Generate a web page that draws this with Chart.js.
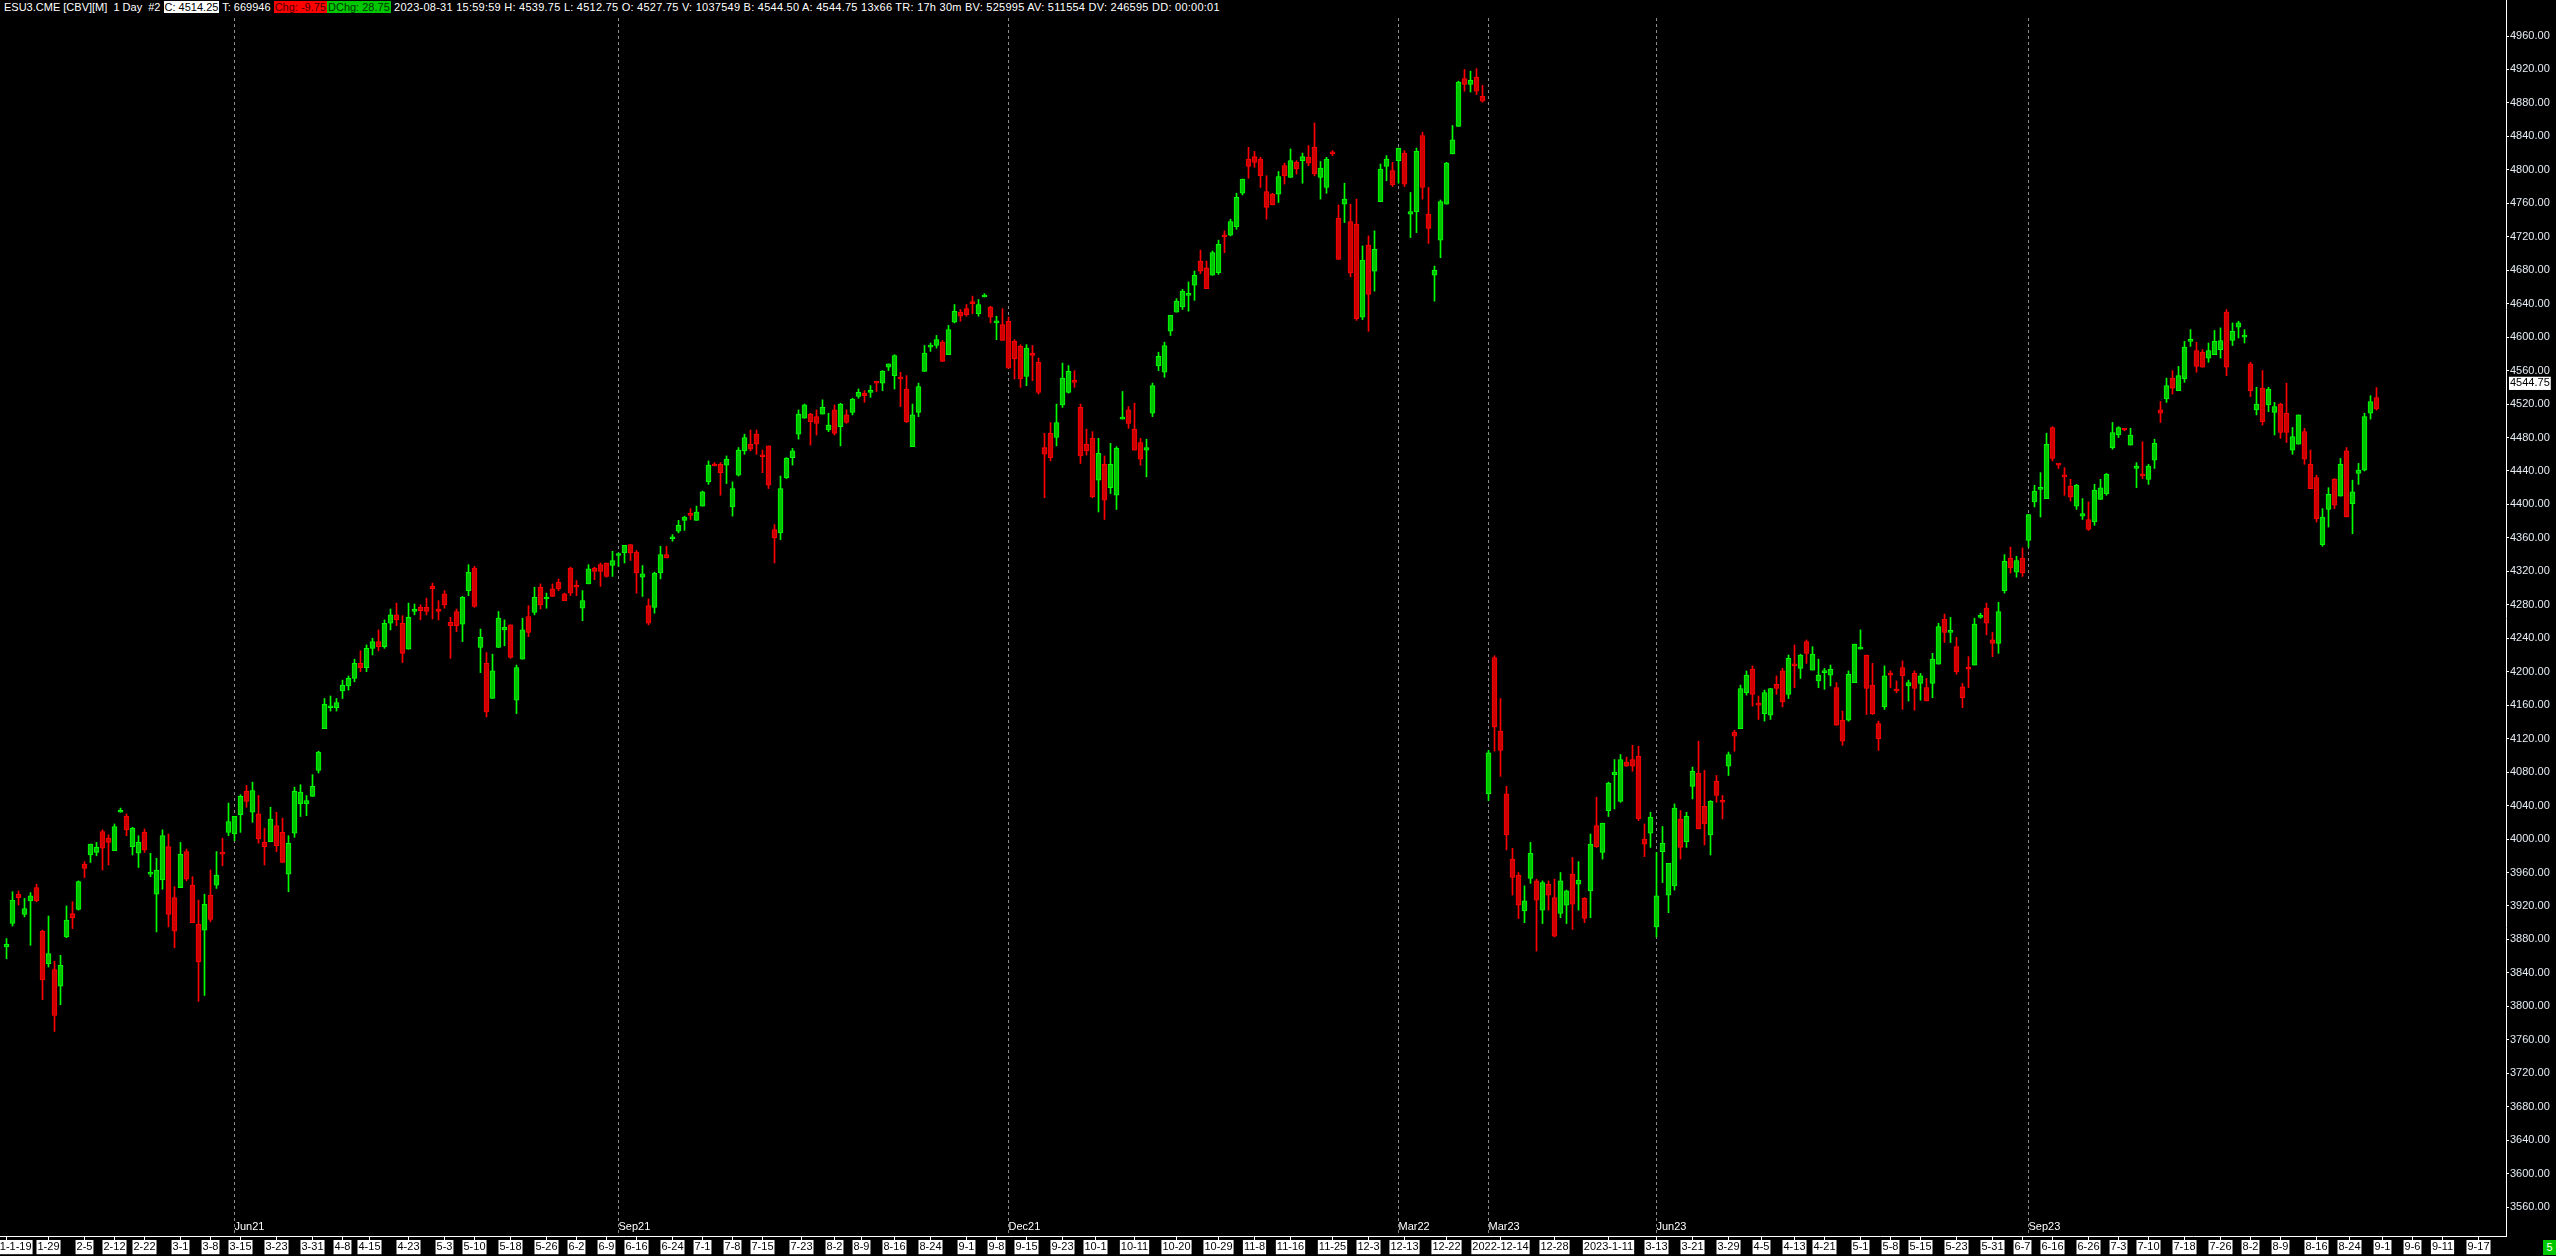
<!DOCTYPE html>
<html>
<head>
<meta charset="utf-8">
<script src="https://cdn.jsdelivr.net/npm/chart.js@4.4.0/dist/chart.umd.min.js"></script>
<style>
    body { margin: 0; background: #000; overflow: hidden; }
    #wrap { position: relative; width: 2556px; height: 1256px; background: #000; }
    #band { position: absolute; left: 0; top: 0; width: 2505px; height: 17px; background: #000; }
    #header {
        position: absolute; left: 4px; top: 1px;
        font: 11px 'Liberation Sans', Arial, sans-serif; line-height: 13px;
        color: #fff; white-space: pre;
    }
    #header .box { padding: 0 1px; }
    #header .white { background: #fff; color: #000; }
    #header .red { background: #ff0000; color: #4a0000; }
    #header .green { background: #00c800; color: #003300; }
    #header .tail { letter-spacing: 0.25px; }
    #barCount {
        position: absolute; left: 2543px; top: 1240px; width: 13px; height: 15px;
        background: #00c800; color: #fff; text-align: center;
        font: 11px 'Liberation Sans', Arial, sans-serif; line-height: 15px;
    }
</style>
</head>
<body>
<div id="wrap">
    <canvas id="priceChart" width="2556" height="1256"></canvas>
    <div id="band"></div>
    <div id="header">ESU3.CME [CBV][M]  1 Day  #2 <span class="box white">C: 4514.25</span> T: 669946 <span class="box red">Chg: -9.75</span><span class="box green">DChg: 28.75</span><span class="tail"> 2023-08-31 15:59:59 H: 4539.75 L: 4512.75 O: 4527.75 V: 1037549 B: 4544.50 A: 4544.75 13x66 TR: 17h 30m BV: 525995 AV: 511554 DV: 246595 DD: 00:00:01</span></div>
    <div id="barCount">5</div>
</div>
<script>
// Daily OHLC bars, one entry per session
const opens = [
    3871,3899,3934,3910,3926,3942,3890,3851,3844,3824,
    3883,3911,3916,3970,3981,3984,4009,4001,3986,4032,
    4027,3991,3983,4008,3958,3934,3951,3991,3930,3942,
    3985,3945,3898,3891,3933,3945,3983,4008,4006,4029,
    4057,4032,4030,3996,3997,4016,4008,3958,4007,4042,
    4042,4051,4082,4132,4157,4157,4177,4183,4192,4210,
    4205,4228,4236,4230,4258,4268,4258,4227,4272,4277,
    4277,4302,4275,4293,4259,4272,4257,4297,4324,4229,
    4210,4168,4229,4250,4256,4166,4215,4266,4271,4301,
    4287,4299,4307,4293,4324,4302,4276,4305,4324,4328,
    4330,4327,4339,4342,4352,4343,4313,4279,4277,4318,
    4340,4359,4368,4381,4388,4381,4398,4427,4448,4448,
    4447,4397,4435,4464,4472,4484,4458,4470,4370,4366,
    4432,4456,4484,4503,4508,4505,4508,4489,4513,4493,
    4507,4510,4529,4533,4534,4546,4545,4564,4554,4551,
    4538,4469,4510,4559,4588,4590,4594,4579,4618,4630,
    4634,4642,4628,4648,4636,4617,4615,4619,4595,4589,
    4553,4581,4570,4468,4485,4480,4519,4534,4547,4516,
    4472,4479,4429,4448,4420,4411,4502,4513,4490,4474,
    4465,4509,4566,4558,4607,4630,4636,4650,4662,4691,
    4683,4674,4677,4721,4722,4732,4772,4813,4816,4813,
    4774,4771,4771,4805,4791,4809,4811,4815,4827,4791,
    4779,4820,4742,4759,4738,4735,4624,4710,4679,4762,
    4804,4799,4811,4820,4747,4750,4841,4747,4674,4716,
    4759,4819,4852,4909,4902,4911,4888,4054,4217,4129,
    4054,3976,3957,3914,3953,3950,3915,3946,3930,3911,
    3921,3958,3946,3929,3938,4016,3984,4034,4077,4045,
    4092,4095,4099,4000,4007,3895,3985,3933,3944,4024,
    3997,4063,4079,4039,4005,4069,4045,4087,4128,4132,
    4175,4203,4162,4150,4148,4185,4201,4173,4209,4204,
    4236,4202,4189,4199,4196,4181,4142,4142,4187,4227,
    4220,4184,4138,4158,4198,4178,4205,4183,4198,4186,
    4181,4186,4209,4263,4247,4230,4182,4204,4208,4265,
    4276,4238,4234,4297,4336,4319,4336,4357,4403,4418,
    4407,4492,4448,4434,4422,4398,4386,4382,4379,4406,
    4413,4468,4483,4491,4471,4443,4435,4430,4453,4513,
    4526,4551,4536,4550,4595,4584,4582,4575,4579,4585,
    4630,4596,4612,4600,4568,4513,4539,4519,4510,4520,
    4509,4465,4472,4487,4448,4432,4352,4394,4430,4410,
    4464,4401,4437,4441,4509,4527.75
];
const highs = [
    3881,3937,3938,3929,3936,3946,3891,3908,3854,3861,
    3920,3925,3950,3973,3994,3996,4011,4005,4018,4037,
    4030,4014,4004,4012,3983,3977,4011,4006,3943,3996,
    3988,3955,3927,3934,3963,3985,4001,4043,4027,4053,
    4064,4068,4052,4013,4038,4032,4025,4004,4062,4065,
    4052,4077,4105,4168,4171,4168,4190,4195,4215,4225,
    4232,4240,4250,4262,4275,4282,4267,4282,4281,4280,
    4288,4306,4285,4297,4265,4275,4290,4328,4326,4251,
    4223,4221,4272,4262,4256,4208,4264,4279,4301,4305,
    4294,4305,4311,4294,4325,4309,4297,4328,4325,4330,
    4330,4344,4342,4351,4352,4345,4327,4287,4319,4350,
    4350,4364,4381,4386,4395,4398,4416,4452,4450,4450,
    4458,4427,4468,4484,4489,4489,4465,4470,4376,4434,
    4456,4467,4513,4520,4509,4513,4525,4509,4519,4521,
    4513,4527,4538,4536,4542,4547,4560,4568,4579,4558,
    4554,4520,4545,4590,4593,4602,4596,4614,4639,4633,
    4639,4649,4645,4652,4637,4625,4634,4624,4597,4591,
    4591,4590,4575,4485,4498,4520,4569,4566,4560,4520,
    4490,4487,4479,4458,4473,4469,4535,4517,4521,4479,
    4478,4545,4582,4594,4626,4646,4657,4666,4679,4704,
    4691,4703,4716,4727,4741,4772,4789,4827,4822,4815,
    4793,4772,4798,4808,4825,4811,4820,4829,4856,4810,
    4815,4823,4758,4784,4759,4765,4709,4721,4727,4807,
    4817,4809,4826,4823,4773,4826,4845,4779,4685,4764,
    4809,4853,4906,4920,4918,4921,4901,4106,4219,4168,
    4063,3989,3960,3944,3996,3952,3950,3950,3952,3960,
    3939,3978,3973,3930,4006,4050,4019,4068,4095,4101,
    4098,4112,4111,4018,4032,3984,4015,3971,4042,4034,
    4032,4086,4117,4082,4046,4076,4052,4104,4130,4184,
    4201,4207,4171,4178,4180,4195,4204,4220,4232,4221,
    4238,4230,4215,4204,4208,4187,4153,4201,4233,4250,
    4220,4210,4141,4207,4201,4189,4213,4190,4201,4198,
    4192,4222,4258,4269,4265,4241,4186,4218,4264,4270,
    4282,4247,4283,4340,4349,4338,4348,4388,4423,4438,
    4485,4493,4448,4444,4430,4424,4407,4403,4424,4430,
    4437,4498,4493,4491,4491,4450,4475,4448,4478,4523,
    4551,4560,4565,4595,4609,4594,4585,4593,4608,4611,
    4633,4617,4619,4609,4570,4540,4560,4540,4522,4521,
    4545,4492,4507,4491,4465,4435,4395,4420,4431,4455,
    4468,4429,4449,4509,4530,4539.75
];
const lows = [
    3857,3896,3921,3907,3873,3925,3808,3847,3770,3802,
    3882,3893,3915,3954,3972,3980,3963,3969,3986,4032,
    4004,3981,3966,3984,3955,3889,3940,3895,3870,3942,
    3950,3900,3806,3813,3901,3941,3968,4004,3998,4008,
    4038,4020,3995,3969,3997,3985,3972,3937,4002,4027,
    4028,4051,4079,4132,4153,4153,4168,4178,4188,4200,
    4200,4220,4225,4228,4250,4255,4211,4227,4268,4262,
    4268,4263,4262,4276,4216,4248,4236,4291,4277,4199,
    4146,4168,4229,4231,4216,4150,4215,4242,4268,4275,
    4276,4290,4297,4285,4291,4291,4261,4305,4310,4302,
    4313,4314,4326,4330,4333,4294,4290,4256,4270,4311,
    4336,4356,4366,4369,4382,4381,4398,4424,4446,4411,
    4425,4386,4434,4460,4464,4460,4438,4419,4330,4358,
    4431,4447,4478,4503,4471,4483,4508,4487,4483,4470,
    4497,4507,4527,4522,4528,4535,4536,4560,4538,4517,
    4498,4469,4505,4559,4583,4587,4571,4579,4617,4619,
    4625,4628,4625,4648,4617,4597,4596,4563,4550,4540,
    4542,4548,4532,4408,4452,4470,4516,4533,4540,4449,
    4459,4408,4391,4382,4413,4394,4502,4491,4465,4447,
    4433,4505,4560,4552,4602,4630,4633,4631,4644,4676,
    4658,4674,4675,4701,4721,4729,4770,4790,4803,4779,
    4741,4758,4761,4783,4791,4795,4784,4805,4793,4765,
    4772,4817,4693,4737,4672,4620,4621,4607,4655,4762,
    4787,4780,4784,4780,4719,4725,4765,4712,4643,4695,
    4759,4819,4852,4894,4893,4890,4881,4046,4105,4075,
    3987,3933,3905,3900,3947,3866,3899,3915,3883,3906,
    3899,3892,3915,3900,3906,3990,3976,4027,4036,4044,
    4087,4081,4022,3979,3990,3883,3948,3912,3939,3976,
    3990,4048,4012,3993,3981,4044,4024,4076,4105,4132,
    4172,4159,4143,4141,4143,4173,4158,4168,4181,4192,
    4210,4202,4181,4179,4183,4136,4112,4141,4187,4227,
    4149,4149,4106,4155,4181,4175,4155,4165,4154,4166,
    4165,4169,4209,4235,4235,4197,4157,4181,4208,4264,
    4244,4218,4222,4294,4318,4313,4314,4349,4397,4385,
    4407,4452,4443,4411,4404,4394,4382,4369,4375,4406,
    4411,4466,4480,4488,4471,4420,4431,4424,4443,4498,
    4522,4532,4536,4546,4589,4558,4564,4570,4579,4575,
    4554,4590,4599,4593,4529,4507,4495,4511,4483,4479,
    4474,4460,4472,4448,4419,4379,4350,4373,4395,4410,
    4385,4365,4424,4440,4502,4512.75
];
const closes = [
    3874,3927,3930,3917,3932,3926,3832,3863,3789,3849,
    3903,3906,3949,3965,3994,3990,3989,3996,4015,4034,
    4011,4013,3996,3987,3959,3963,4004,3910,3890,3982,
    3952,3900,3853,3922,3904,3957,3982,4021,4027,4051,
    4045,4058,4000,3991,4024,3992,3972,3995,4057,4056,
    4046,4063,4104,4161,4159,4163,4184,4192,4210,4205,
    4228,4236,4230,4258,4268,4262,4222,4265,4275,4273,
    4272,4299,4272,4280,4255,4255,4289,4319,4278,4241,
    4152,4201,4264,4253,4217,4205,4250,4247,4289,4280,
    4288,4290,4299,4285,4294,4301,4285,4323,4320,4320,
    4314,4333,4340,4351,4342,4318,4317,4258,4318,4340,
    4336,4360,4375,4385,4387,4391,4415,4447,4446,4438,
    4454,4419,4465,4480,4466,4472,4457,4423,4360,4419,
    4455,4464,4508,4519,4499,4497,4516,4495,4485,4520,
    4498,4526,4534,4530,4535,4545,4559,4568,4578,4550,
    4499,4507,4541,4581,4588,4597,4571,4609,4631,4625,
    4627,4640,4639,4649,4624,4618,4596,4563,4574,4550,
    4587,4578,4534,4460,4456,4498,4551,4559,4546,4458,
    4464,4409,4461,4405,4448,4467,4504,4497,4465,4454,
    4468,4542,4577,4590,4626,4643,4655,4650,4674,4679,
    4658,4701,4711,4720,4738,4767,4789,4804,4809,4793,
    4755,4758,4792,4793,4811,4801,4816,4808,4795,4802,
    4813,4819,4693,4765,4677,4622,4692,4651,4705,4801,
    4813,4782,4826,4783,4750,4822,4779,4730,4680,4762,
    4808,4836,4905,4902,4907,4894,4882,4103,4134,4106,
    4005,3954,3921,3926,3983,3927,3948,3933,3884,3950,
    3938,3922,3951,3905,3994,3991,4019,4067,4080,4095,
    4087,4087,4024,3994,4026,3932,3995,3971,4037,3990,
    4027,4081,4012,4018,4045,4052,4044,4101,4123,4180,
    4196,4173,4160,4175,4180,4180,4164,4216,4207,4220,
    4222,4221,4196,4200,4203,4136,4117,4197,4233,4228,
    4180,4150,4120,4195,4196,4177,4195,4187,4180,4195,
    4165,4215,4254,4247,4248,4200,4169,4203,4257,4267,
    4258,4234,4272,4332,4324,4333,4318,4388,4416,4419,
    4472,4455,4447,4433,4409,4423,4389,4370,4417,4420,
    4436,4486,4492,4489,4483,4446,4434,4446,4473,4509,
    4542,4539,4554,4588,4596,4565,4564,4584,4595,4596,
    4564,4607,4617,4601,4536,4520,4499,4538,4517,4486,
    4486,4481,4507,4454,4419,4383,4385,4412,4399,4448,
    4385,4415,4441,4505,4523,4514.25
];

// Date labels along the bottom, placed at the bar they sit under
const dateTickBars = [
    0, 7, 13, 18, 23, 29, 34, 39, 45, 51, 56, 60.5, 67, 73, 78, 84, 90, 95, 100, 105,
    111, 116, 121, 126, 132.5, 138, 142.5, 148, 154, 160, 165, 170, 176, 181.5, 188, 195, 202, 208, 214, 221,
    227, 233, 240, 249, 258, 267, 275, 281, 287, 292.5, 298, 303, 309, 314, 319, 325, 331, 336, 341, 347,
    352, 357, 363, 369, 374, 379, 385, 390.5, 396, 401, 406, 412
];
const dateTickLabels = [
    '2021-1-19', '1-29', '2-5', '2-12', '2-22', '3-1', '3-8', '3-15', '3-23', '3-31', '4-8', '4-15', '4-23', '5-3', '5-10', '5-18', '5-26', '6-2', '6-9', '6-16',
    '6-24', '7-1', '7-8', '7-15', '7-23', '8-2', '8-9', '8-16', '8-24', '9-1', '9-8', '9-15', '9-23', '10-1', '10-11', '10-20', '10-29', '11-8', '11-16', '11-25',
    '12-3', '12-13', '12-22', '2022-12-14', '12-28', '2023-1-11', '3-13', '3-21', '3-29', '4-5', '4-13', '4-21', '5-1', '5-8', '5-15', '5-23', '5-31', '6-7', '6-16', '6-26',
    '7-3', '7-10', '7-18', '7-26', '8-2', '8-9', '8-16', '8-24', '9-1', '9-6', '9-11', '9-17'
];

// Contract roll markers (dotted lines)
const contractBars = [38, 102, 167, 232, 247, 275, 337];
const contractLabels = ['Jun21', 'Sep21', 'Dec21', 'Mar22', 'Mar23', 'Jun23', 'Sep23'];

const priceTicks = [
    3560, 3600, 3640, 3680, 3720, 3760, 3800, 3840, 3880, 3920, 3960, 4000,
    4040, 4080, 4120, 4160, 4200, 4240, 4280, 4320, 4360, 4400, 4440, 4480,
    4520, 4560, 4600, 4640, 4680, 4720, 4760, 4800, 4840, 4880, 4920, 4960
];
const markerPrice = 4544.75;

const UP_FILL = '#00c400';
const UP_LINE = '#00ff00';
const DOWN_FILL = '#cc0000';
const DOWN_LINE = '#ff0000';
const AXIS_TEXT = '#e6edf5';

// bar 0 sits 6px in, one bar every 6px
const X_MIN = -13 / 12;
const X_MAX = X_MIN + 2506 / 6;

function isUp(i) {
    return closes[i] >= opens[i];
}

// labels hanging over the edges must not push the plot area in
function noEdgePadding(scale) {
    scale.paddingLeft = 0;
    scale.paddingRight = 0;
    scale.paddingTop = 0;
    scale.paddingBottom = 0;
}

function createCandleDatasets() {
    return [{
        label: 'Body',
        data: opens.map((o, i) => ({ x: i, y: [o, closes[i]] })),
        backgroundColor: ctx => isUp(ctx.dataIndex) ? UP_FILL : DOWN_FILL,
        borderColor: ctx => isUp(ctx.dataIndex) ? UP_LINE : DOWN_LINE,
        borderWidth: 1,
        borderSkipped: false,
        barThickness: 5,
        minBarLength: 2,
        grouped: false,
        xAxisID: 'x',
        yAxisID: 'y'
    }, {
        label: 'Wick',
        data: lows.map((l, i) => ({ x: i, y: [l, highs[i]] })),
        backgroundColor: ctx => isUp(ctx.dataIndex) ? UP_LINE : DOWN_LINE,
        borderWidth: 0,
        barThickness: 1,
        grouped: false,
        xAxisID: 'x',
        yAxisID: 'y'
    }];
}

function initializePriceChart() {
    Chart.defaults.font.family = "'Liberation Sans', Arial, sans-serif";
    Chart.defaults.font.size = 11;

    const ctx = document.getElementById('priceChart').getContext('2d');
    new Chart(ctx, {
        type: 'bar',
        data: { datasets: createCandleDatasets() },
        options: {
            responsive: false,
            animation: false,
            events: [],
            layout: { autoPadding: false, padding: 0 },
            plugins: {
                legend: { display: false },
                tooltip: { enabled: false }
            },
            scales: {
                x: {
                    type: 'linear',
                    position: 'bottom',
                    weight: 1,
                    min: X_MIN,
                    max: X_MAX,
                    offset: false,
                    afterBuildTicks: scale => {
                        scale.ticks = dateTickBars.map(v => ({ value: v }));
                    },
                    afterFit: scale => {
                        scale.height = 20;
                        noEdgePadding(scale);
                    },
                    grid: {
                        offset: false,
                        drawOnChartArea: false,
                        tickLength: 4,
                        color: '#ffffff'
                    },
                    border: { display: true, color: '#ffffff', width: 1 },
                    ticks: {
                        autoSkip: false,
                        maxRotation: 0,
                        padding: 0,
                        color: '#000000',
                        font: { size: 11, lineHeight: 1.2 },
                        showLabelBackdrop: true,
                        backdropColor: '#ffffff',
                        backdropPadding: { top: 0, bottom: 1, left: 1, right: 1 },
                        callback: (value, index) => dateTickLabels[index]
                    }
                },
                x2: {
                    type: 'linear',
                    position: 'bottom',
                    weight: 0,
                    min: X_MIN,
                    max: X_MAX,
                    offset: false,
                    afterBuildTicks: scale => {
                        scale.ticks = contractBars.map(v => ({ value: v }));
                    },
                    afterFit: scale => {
                        scale.height = 0;
                        noEdgePadding(scale);
                    },
                    grid: {
                        offset: false,
                        drawOnChartArea: true,
                        drawTicks: false,
                        color: '#8c8c8c',
                        lineWidth: 1
                    },
                    border: { display: false, dash: [3, 3] },
                    ticks: {
                        autoSkip: false,
                        maxRotation: 0,
                        mirror: true,
                        align: 'start',
                        padding: 0,
                        color: '#ffffff',
                        font: { size: 11, lineHeight: 1.6 },
                        callback: (value, index) => contractLabels[index]
                    }
                },
                y: {
                    type: 'linear',
                    position: 'right',
                    min: 4960 - 1200 / 0.8365,
                    max: 4960 + 36 / 0.8365,
                    afterBuildTicks: scale => {
                        scale.ticks = priceTicks.concat([markerPrice]).map(v => ({ value: v }));
                    },
                    afterFit: scale => {
                        scale.width = 50;
                        noEdgePadding(scale);
                    },
                    grid: {
                        drawOnChartArea: false,
                        tickLength: 3,
                        color: c => c.tick && c.tick.value === markerPrice ? 'rgba(0,0,0,0)' : '#ffffff'
                    },
                    border: { display: true, color: '#ffffff', width: 1 },
                    ticks: {
                        padding: 1,
                        font: { size: 11 },
                        color: c => c.tick && c.tick.value === markerPrice ? '#000000' : AXIS_TEXT,
                        showLabelBackdrop: c => !!(c.tick && c.tick.value === markerPrice),
                        backdropColor: '#ffffff',
                        backdropPadding: { top: 0, bottom: 0, left: 1, right: 1 },
                        callback: value => value.toFixed(2)
                    }
                }
            }
        }
    });
}

initializePriceChart();
</script>
</body>
</html>
